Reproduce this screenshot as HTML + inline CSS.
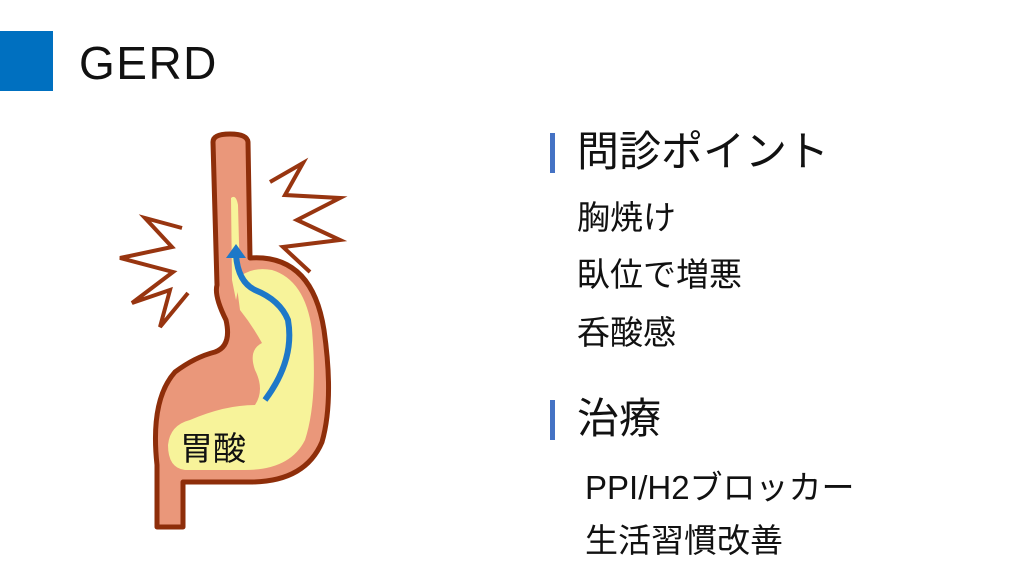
<!DOCTYPE html>
<html><head><meta charset="utf-8"><style>
body{margin:0;width:1024px;height:576px;background:#fff;position:relative;overflow:hidden;font-family:"Liberation Sans","Noto Sans CJK JP",sans-serif;color:#111}
.t{position:absolute;white-space:nowrap;line-height:1.2}
.bar{position:absolute;width:5px;background:#4472C4}
</style></head><body>
<div style="position:absolute;left:0;top:31px;width:53px;height:60px;background:#0070C0"></div>
<div class="t" style="left:79px;top:36px;font-size:46px;letter-spacing:1.5px;color:#111">GERD</div>
<svg width="1024" height="576" style="position:absolute;left:0;top:0">
<polyline points="182,228 145,218 172,247 120,258 173,272 132,303 170,290 160,327 188,293" fill="none" stroke="#983510" stroke-width="4"/>
<polyline points="270,182 303,163 285,195 340,198 297,220 340,240 283,247 310,272" fill="none" stroke="#983510" stroke-width="4"/>
<path d="M213,142 Q213,134 230,134 Q247,134 248,142 L250,258 Q312,254 324,330 Q334,400 322,442 Q305,482 250,482 L183,482 L183,527 L157,527 L157,465 Q150,400 175,372 Q195,357 215,352 Q232,346 226,320 Q214,296 217,285 Z" fill="#EA977A" stroke="#8E2E0A" stroke-width="5" stroke-linejoin="round"/>
<path d="M236,280 Q250,266 272,270 Q305,280 312,330 Q318,400 305,440 Q290,470 245,470 L185,470 Q168,468 168,445 Q170,425 190,420 Q225,405 255,405 Q265,390 255,370 Q248,350 262,343 Q252,325 240,310 Z" fill="#F7F39A"/>
<path d="M231,198 Q236,194 238,205 L240,280 L236,300 L232,280 Z" fill="#F7F39A"/>
<path d="M265,400 Q295,360 288,320 Q280,300 255,290 Q238,282 236,255" fill="none" stroke="#1E78C8" stroke-width="6"/>
<polygon points="236,244 226,258 246,258" fill="#1E78C8"/>
<text x="180" y="460" font-size="33" font-family="Liberation Sans,Noto Sans CJK JP,sans-serif" fill="#111">胃酸</text>
</svg>
<div class="bar" style="left:550px;top:133px;height:40px"></div>
<div class="t" style="left:577px;top:127px;font-size:42px">問診ポイント</div>
<div class="t" style="left:577px;top:198px;font-size:33px">胸焼け</div>
<div class="t" style="left:577px;top:255px;font-size:33px">臥位で増悪</div>
<div class="t" style="left:577px;top:313px;font-size:33px">呑酸感</div>
<div class="bar" style="left:550px;top:400px;height:40px"></div>
<div class="t" style="left:577px;top:394px;font-size:42px">治療</div>
<div class="t" style="left:585px;top:468px;font-size:33px">PPI/H2ブロッカー</div>
<div class="t" style="left:585px;top:521px;font-size:33px">生活習慣改善</div>
</body></html>
